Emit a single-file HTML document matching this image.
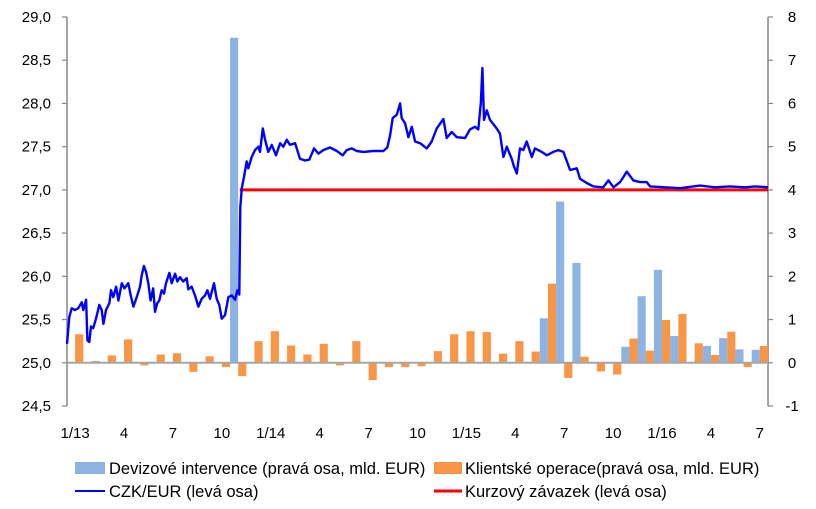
<!DOCTYPE html>
<html><head><meta charset="utf-8"><style>
body{margin:0;background:#fff;}
svg{display:block;font-family:"Liberation Sans",sans-serif;}
</style></head><body>
<svg id="chart" width="816" height="509"></svg>
<script>
const months = 43;
const blueVals = [0,0,0,0,0,0,0,0,0,0,7.52,0,0,0,0,0,0,0,0,0,0,0,0,0,0,0,0,0,0,1.03,3.73,2.31,0,0,0.37,1.54,2.15,0.62,0,0.39,0.57,0.31,0.30];
const orangeVals = [0.66,0.04,0.17,0.54,-0.06,0.19,0.22,-0.21,0.15,-0.1,-0.31,0.5,0.73,0.4,0.19,0.44,-0.06,0.5,-0.4,-0.1,-0.1,-0.08,0.27,0.66,0.73,0.71,0.21,0.5,0.26,1.83,-0.35,0.14,-0.2,-0.27,0.56,0.28,0.99,1.13,0.45,0.18,0.72,-0.1,0.39];
const czkT = [0,0.14,0.29,0.49,0.69,0.9,1.0,1.17,1.25,1.37,1.47,1.61,1.78,1.98,2.13,2.23,2.39,2.6,2.7,2.84,3.01,3.15,3.36,3.52,3.76,3.91,4.07,4.31,4.48,4.58,4.72,4.85,4.99,5.13,5.29,5.4,5.54,5.66,5.81,5.95,6.07,6.28,6.42,6.63,6.77,6.93,7.13,7.34,7.44,7.65,7.85,8.06,8.26,8.47,8.61,8.77,9.02,9.18,9.34,9.49,9.69,9.9,10.1,10.31,10.45,10.57,10.63,10.72,10.86,11.02,11.12,11.33,11.53,11.74,11.84,12.01,12.15,12.35,12.56,12.82,13.07,13.27,13.48,13.68,13.99,14.29,14.6,14.87,15.15,15.42,15.72,16.13,16.55,16.91,17.16,17.47,17.77,18.18,18.79,19.4,19.65,19.82,19.98,20.23,20.43,20.53,20.74,20.94,21.15,21.35,21.66,22.07,22.37,22.68,23.09,23.29,23.6,23.91,24.42,24.72,25.03,25.23,25.38,25.48,25.58,25.75,25.95,26.36,26.56,26.77,26.98,27.28,27.42,27.59,27.79,27.99,28.2,28.51,28.71,29.12,29.43,29.83,30.14,30.45,30.86,31.27,31.47,31.88,32.29,32.9,33.21,33.52,33.93,34.34,34.74,35.15,35.56,35.77,36.69,37.61,38.83,39.75,40.67,41.6,42.2,43.0];
const czkV = [25.22,25.53,25.63,25.61,25.63,25.70,25.61,25.73,25.26,25.24,25.42,25.40,25.51,25.67,25.61,25.45,25.61,25.69,25.84,25.76,25.88,25.72,25.92,25.86,25.92,25.78,25.65,25.78,25.88,26.01,26.12,26.05,25.92,25.72,25.86,25.59,25.69,25.72,25.84,25.80,25.92,26.04,25.92,26.03,25.94,25.99,25.94,25.98,25.85,25.88,25.78,25.65,25.74,25.78,25.84,25.74,25.92,25.74,25.67,25.51,25.55,25.76,25.78,25.73,25.84,25.79,26.80,27.02,27.15,27.33,27.25,27.38,27.46,27.50,27.44,27.71,27.58,27.44,27.52,27.40,27.54,27.50,27.58,27.52,27.54,27.36,27.34,27.35,27.48,27.42,27.46,27.49,27.45,27.40,27.46,27.48,27.45,27.44,27.45,27.45,27.49,27.63,27.83,27.87,28.00,27.83,27.77,27.61,27.73,27.56,27.54,27.48,27.56,27.71,27.82,27.60,27.67,27.61,27.60,27.70,27.73,27.70,28.00,28.41,27.81,27.92,27.81,27.71,27.65,27.38,27.50,27.36,27.27,27.19,27.48,27.46,27.56,27.38,27.48,27.44,27.40,27.44,27.46,27.44,27.23,27.25,27.13,27.08,27.04,27.03,27.11,27.03,27.09,27.21,27.11,27.09,27.09,27.04,27.03,27.02,27.05,27.03,27.04,27.03,27.04,27.03];
const floorStartT = 10.6;
const floorVal = 27.0;
const leftTicks = ["29,0","28,5","28,0","27,5","27,0","26,5","26,0","25,5","25,0","24,5"];
const rightTicks = ["8","7","6","5","4","3","2","1","0","-1"];
const xLabels = ["1/13","4","7","10","1/14","4","7","10","1/15","4","7","10","1/16","4","7"];

const NS="http://www.w3.org/2000/svg";
const svg=document.getElementById('chart');
const X0=67,X1=768,Y0=17,Y1=406;
const sx=t=>X0+(X1-X0)*t/months;
const yL=v=>Y1-(v-24.5)/4.5*(Y1-Y0);
const yR=v=>Y1-(v+1)/9*(Y1-Y0);
function mk(tag,a){const e=document.createElementNS(NS,tag);for(const k in a)e.setAttribute(k,a[k]);svg.appendChild(e);return e;}

let e=mk('line',{x1:X0,y1:Y0,x2:X0,y2:Y1,stroke:'#868686','stroke-width':1.5});


e=mk('line',{x1:X1,y1:Y0,x2:X1,y2:Y1,stroke:'#868686','stroke-width':1.5});


leftTicks.forEach((l,i)=>{
  const y=Y0+i*(Y1-Y0)/9;
  const t=mk('line',{x1:X0-5,y1:y,x2:X0,y2:y,stroke:'#868686','stroke-width':1.2});
  
  
  const tx=mk('text',{x:X0-16,y:y+5,'text-anchor':'end','font-size':15,fill:'#000'});
  tx.textContent=l;
  
  
});
rightTicks.forEach((l,i)=>{
  const y=Y0+i*(Y1-Y0)/9;
  const t=mk('line',{x1:X1,y1:y,x2:X1+5,y2:y,stroke:'#868686','stroke-width':1.2});
  
  
  const tx=mk('text',{x:X1+24,y:y+5,'text-anchor':'middle','font-size':15,fill:'#000'});
  tx.textContent=l;
  
  
});
xLabels.forEach((l,i)=>{
  const tx=mk('text',{x:sx(i*3+0.5),y:438,'text-anchor':'middle','font-size':15,fill:'#000'});
  tx.textContent=l;
  
  
});
const bw=(X1-X0)/months/2;
blueVals.forEach((v,i)=>{
  if(!v)return;
  const y0=yR(0),y=yR(v);
  const r=mk('rect',{x:sx(i+0.5)-bw,y:Math.min(y,y0),width:bw,height:Math.abs(y0-y),fill:'#8DB3E2'});
  
  
});
orangeVals.forEach((v,i)=>{
  const y0=yR(0),y=yR(v);
  const r=mk('rect',{x:sx(i+0.5),y:Math.min(y,y0),width:bw,height:Math.abs(y0-y),fill:'#F79646'});
  
  
});
e=mk('line',{x1:X0,y1:yR(0),x2:X1,y2:yR(0),stroke:'#A6A6A6','stroke-width':2});


e=mk('line',{x1:sx(floorStartT),y1:yL(floorVal),x2:X1,y2:yL(floorVal),stroke:'#FF0000','stroke-width':3});


const pts=czkT.map((t,i)=>sx(t).toFixed(1)+','+yL(czkV[i]).toFixed(1)).join(' ');
e=mk('polyline',{points:pts,fill:'none',stroke:'#0000FF','stroke-width':2.4,'stroke-linejoin':'round'});


e=mk('rect',{x:75,y:462,width:30,height:12,fill:'#8DB3E2'});


e=mk('text',{x:109,y:474,'font-size':16.5});e.textContent='Devizové intervence (pravá osa, mld. EUR)';


e=mk('rect',{x:434,y:462,width:28,height:12,fill:'#F79646'});


e=mk('text',{x:465,y:474,'font-size':16.5});e.textContent='Klientské operace(pravá osa, mld. EUR)';


e=mk('line',{x1:75,y1:491,x2:105,y2:491,stroke:'#0000FF','stroke-width':2});


e=mk('text',{x:109,y:497,'font-size':16.5});e.textContent='CZK/EUR (levá osa)';


e=mk('line',{x1:434,y1:491,x2:462,y2:491,stroke:'#FF0000','stroke-width':3});


e=mk('text',{x:465,y:497,'font-size':16.5});e.textContent='Kurzový závazek (levá osa)';


</script>
</body></html>
